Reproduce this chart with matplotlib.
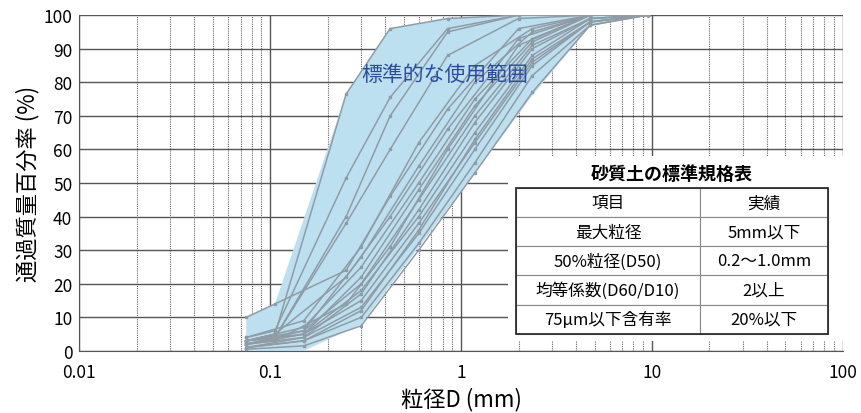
import matplotlib
matplotlib.use("Agg")
import matplotlib.pyplot as plt
from matplotlib.ticker import FixedLocator, LogLocator, NullFormatter
from matplotlib.patches import Rectangle

plt.rcParams['font.family'] = ['Noto Sans CJK JP', 'DejaVu Sans']

# sieve sizes (mm)
sieve_a = [0.075, 0.106, 0.25, 0.425, 0.85, 2.0, 4.75]
sieve_b = [0.075, 0.15, 0.3, 0.6, 1.18, 2.36, 4.75, 9.5]

# passing percentage, curves on the soil sieve set
curves_a = [
    [3, 5, 76.5, 96, 99, 100, 100],
    [4, 6, 51.5, 75.5, 96, 100, 100],
    [3, 4, 40, 70, 95, 100, 100],
    [2, 4, 38, 60, 88, 99, 100],
    [10, 14, 24, 46, 72, 96, 100],
    [3, 5, 22, 40, 66, 93, 100],
    [2, 3, 14, 31, 60, 91, 100],
]
# passing percentage, curves on the aggregate sieve set
curves_b = [
    [4, 9, 31, 62, 85, 96, 100, 100],
    [3, 7, 25, 50, 75, 93, 100, 100],
    [2, 6, 20, 45, 70, 91, 99, 100],
    [3, 5, 18, 40, 65, 88, 99, 100],
    [2, 5, 15, 38, 62, 86, 98, 100],
    [1, 4, 13, 35, 60, 85, 98, 100],
    [1, 3, 10, 32, 56, 82, 97, 100],
    [0.5, 1.5, 7.5, 30, 53, 77, 97, 100],
    [2, 5, 22, 48, 73, 92, 100, 100],
    [3, 6, 28, 55, 80, 95, 100, 100],
    [2, 4, 17, 42, 68, 90, 99, 100],
    [1, 3, 12, 36, 63, 87, 98, 100],
]

# envelope of the standard range
band_x = [0.075, 0.075, 0.106, 0.25, 0.425, 0.85, 2.0, 9.5,
          4.75, 2.36, 0.3, 0.15, 0.075]
band_y = [0, 10, 14, 76.5, 96, 99, 100, 100,
          97, 76, 8, 0, 0]

table_rows = [
    ['項目', '実績'],
    ['最大粒径', '5mm以下'],
    ['50%粒径(D50)', '0.2～1.0mm'],
    ['均等係数(D60/D10)', '2以上'],
    ['75μm以下含有率', '20%以下'],
]

fig = plt.figure(figsize=(8.61, 4.14), dpi=100)
ax = fig.add_axes([0.092, 0.150, 0.887, 0.811])

ax.fill(band_x, band_y, color='#bde0f1', lw=0, zorder=2)

line_col = '#8f9ca6'
for ys in curves_a:
    ax.plot(sieve_a, ys, color=line_col, lw=1.1, marker='s', ms=1.8, zorder=3)
for ys in curves_b:
    ax.plot(sieve_b, ys, color=line_col, lw=1.1, marker='s', ms=1.8, zorder=3)

ax.set_xscale('log')
ax.set_xlim(0.01, 100)
ax.set_ylim(0, 100)
ax.xaxis.set_major_locator(FixedLocator([0.01, 0.1, 1, 10, 100]))
ax.set_xticklabels(['0.01', '0.1', '1', '10', '100'])
ax.xaxis.set_minor_locator(LogLocator(base=10, subs=range(2, 10)))
ax.xaxis.set_minor_formatter(NullFormatter())
ax.set_yticks(range(0, 101, 10))
ax.tick_params(axis='both', which='both', length=0, labelsize=12.5)
ax.tick_params(axis='x', pad=9)
ax.tick_params(axis='y', pad=5)

ax.grid(True, which='major', axis='both', color='#555555', lw=1.0, zorder=1)
ax.grid(True, which='minor', axis='x', color='#666666', lw=0.8,
        ls=(0, (1, 1)), zorder=1)
for s in ['top', 'right']:
    ax.spines[s].set_visible(False)
for s in ['left', 'bottom']:
    ax.spines[s].set_color('#555555')

ax.set_xlabel('粒径D (mm)', fontsize=16, labelpad=4)
ax.set_ylabel('通過質量百分率 (%)', fontsize=16, labelpad=3)

ax.text(0.82, 82.4, '標準的な使用範囲', color='#2b4c9c', fontsize=15,
        ha='center', va='center', zorder=4)

# white panel for the table
ax.add_patch(Rectangle((0.562, 0.03), 0.44, 0.55, transform=ax.transAxes,
                       facecolor='white', edgecolor='none', zorder=5,
                       clip_on=False))
ax.text(0.776, 0.527, '砂質土の標準規格表', transform=ax.transAxes,
        fontsize=13, fontweight='bold', ha='center', va='center', zorder=7)

tbl = ax.table(cellText=table_rows, cellLoc='center',
               colWidths=[0.59, 0.41],
               bbox=[0.572, 0.051, 0.408, 0.434], zorder=6)
tbl.auto_set_font_size(False)
for (r, c), cell in tbl.get_celld().items():
    cell.set_edgecolor('#888888')
    cell.set_linewidth(0.8)
    cell.get_text().set_fontsize(12)
    cell.set_zorder(6)
ax.add_patch(Rectangle((0.572, 0.051), 0.408, 0.434, transform=ax.transAxes,
                       facecolor='none', edgecolor='#222222', lw=1.2,
                       zorder=7, clip_on=False))

fig.savefig('out.png', dpi=100)
